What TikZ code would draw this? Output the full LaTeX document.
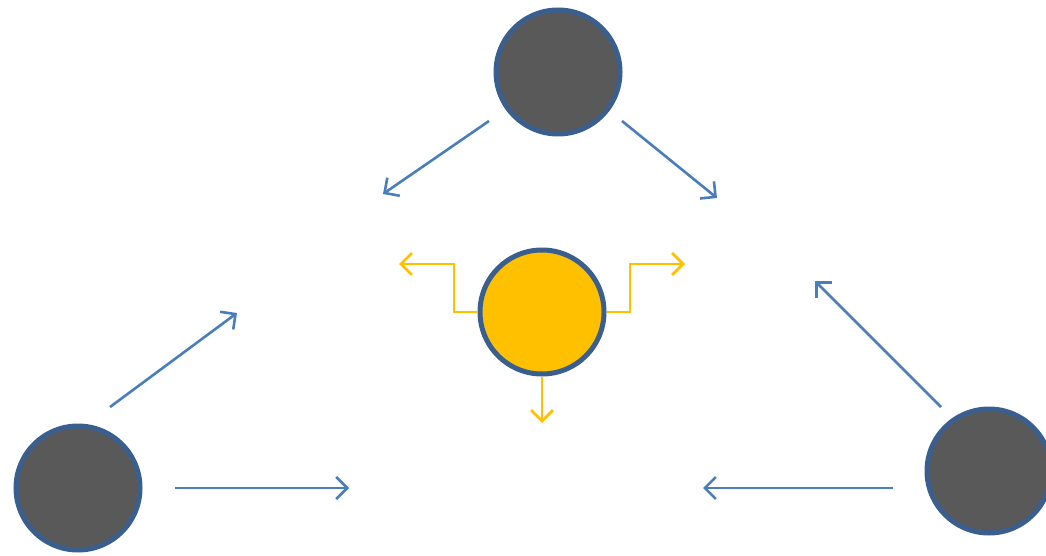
\documentclass[tikz,border=0pt]{standalone}
\usetikzlibrary{arrows.meta}
\definecolor{ablue}{HTML}{4A7EBB}
\definecolor{cborder}{HTML}{3A5F8F}
\definecolor{cgray}{HTML}{595959}
\definecolor{cyel}{HTML}{FFC000}
\begin{document}
\begin{tikzpicture}[x=1pt,y=-1pt,
  dot/.style={circle,draw=cborder,line width=5pt,minimum size=124pt,inner sep=0pt,fill=cgray},
  ydot/.style={dot,fill=cyel},
  barrow/.style={draw=ablue,line width=2.6pt,-{Straight Barb[length=11pt,width=22pt,line width=2.6pt]}},
  yarrow/.style={draw=cyel,line width=2.8pt,-{Straight Barb[length=11pt,width=22pt,line width=2.8pt]}}]
\useasboundingbox (0,0) rectangle (1046,556);
\begin{scope}
\clip (0,0) rectangle (1046,556);
\node[dot] (top) at (558,72) {};
\node[dot] (left) at (78,488) {};
\node[dot] (right) at (989,471) {};
\node[ydot] (mid) at (542,312) {};
\end{scope}
\coordinate (a1) at (489,121); \coordinate (b1) at (383,194);
\coordinate (a2) at (622,121); \coordinate (b2) at (717,198);
\coordinate (a3) at (110,407); \coordinate (b3) at (237,313);
\coordinate (a4) at (175,488); \coordinate (b4) at (349,488);
\coordinate (a5) at (941,407); \coordinate (b5) at (815,281);
\coordinate (a6) at (893,488); \coordinate (b6) at (703,488);
\draw[barrow] (a1) -- (b1);
\draw[barrow] (a2) -- (b2);
\draw[barrow] (a3) -- (b3);
\draw[barrow] (a4) -- (b4);
\draw[barrow] (a5) -- (b5);
\draw[barrow] (a6) -- (b6);
\coordinate (yl) at (399,264);
\coordinate (yr) at (685,264);
\coordinate (yd) at (542,423);
\draw[yarrow] (mid.west) -- (454,312) -- (454,264) -- (yl);
\draw[yarrow] (mid.east) -- (630,312) -- (630,264) -- (yr);
\draw[yarrow] (mid.south) -- (yd);
\end{tikzpicture}
\end{document}
